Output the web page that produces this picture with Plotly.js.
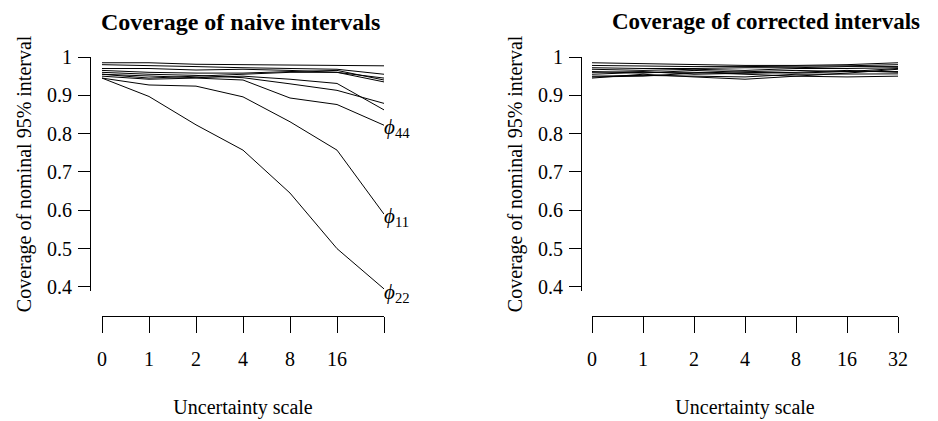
<!DOCTYPE html>
<html>
<head>
<meta charset="utf-8">
<script src="https://cdn.plot.ly/plotly-3.0.1.min.js"></script>
<style>html,body{margin:0;padding:0;background:#fff;}#chart{width:938px;height:421px;}</style>
</head>
<body>
<div id="chart"></div>
<script>
// Uncertainty scale categories
const scales = ["0", "1", "2", "4", "8", "16", "32"];
const naiveTickText = ["0", "1", "2", "4", "8", "16", ""];
const correctedTickText = ["0", "1", "2", "4", "8", "16", "32"];

// Coverage of naive intervals (one series per parameter)
const naive_phi22 = [0.945, 0.897, 0.823, 0.757, 0.645, 0.500, 0.395];
const naive_phi11 = [0.945, 0.927, 0.924, 0.896, 0.831, 0.757, 0.590];
const naive_phi44 = [0.950, 0.942, 0.945, 0.940, 0.893, 0.876, 0.822];
const naive_s4 = [0.955, 0.950, 0.946, 0.950, 0.942, 0.931, 0.862];
const naive_s5 = [0.960, 0.955, 0.952, 0.946, 0.930, 0.913, 0.879];
const naive_s6 = [0.985, 0.985, 0.981, 0.980, 0.979, 0.978, 0.977];
const naive_s7 = [0.980, 0.978, 0.975, 0.972, 0.970, 0.968, 0.955];
const naive_s8 = [0.970, 0.970, 0.966, 0.968, 0.965, 0.960, 0.945];
const naive_s9 = [0.965, 0.960, 0.958, 0.958, 0.962, 0.965, 0.940];
const naive_s10 = [0.955, 0.945, 0.950, 0.955, 0.960, 0.960, 0.935];

// Coverage of corrected intervals
const corr_s1 = [0.985, 0.983, 0.980, 0.978, 0.978, 0.980, 0.985];
const corr_s2 = [0.978, 0.976, 0.975, 0.975, 0.976, 0.977, 0.980];
const corr_s3 = [0.972, 0.970, 0.970, 0.972, 0.972, 0.975, 0.975];
const corr_s4 = [0.968, 0.965, 0.968, 0.965, 0.970, 0.970, 0.972];
const corr_s5 = [0.960, 0.962, 0.955, 0.958, 0.960, 0.965, 0.960];
const corr_s6 = [0.955, 0.960, 0.960, 0.955, 0.950, 0.958, 0.968];
const corr_s7 = [0.950, 0.952, 0.950, 0.948, 0.955, 0.955, 0.956];
const corr_s8 = [0.945, 0.955, 0.948, 0.942, 0.950, 0.948, 0.950];
const corr_s9 = [0.948, 0.950, 0.958, 0.962, 0.965, 0.962, 0.962];
const corr_s10 = [0.962, 0.958, 0.965, 0.960, 0.958, 0.962, 0.970];

const labelNames = ["<i>ϕ</i><sub>44</sub>", "<i>ϕ</i><sub>11</sub>", "<i>ϕ</i><sub>22</sub>"];

const naiveSeries = [naive_phi22, naive_phi11, naive_phi44, naive_s4, naive_s5, naive_s6, naive_s7, naive_s8, naive_s9, naive_s10];
const corrSeries = [corr_s1, corr_s2, corr_s3, corr_s4, corr_s5, corr_s6, corr_s7, corr_s8, corr_s9, corr_s10];

const W = 938, H = 421;
const fx = px => px / W;
const fy = py => 1 - py / H;

const serif = "Liberation Serif, Times New Roman, serif";
const line = {color: "#000", width: 1};

const traces = [];
naiveSeries.forEach(s => traces.push({x: scales, y: s, type: "scatter", mode: "lines", line: line, xaxis: "x", yaxis: "y", hoverinfo: "skip", cliponaxis: false}));
corrSeries.forEach(s => traces.push({x: scales, y: s, type: "scatter", mode: "lines", line: line, xaxis: "x2", yaxis: "y2", hoverinfo: "skip", cliponaxis: false}));

const tickFont = {family: serif, size: 20, color: "#000"};
const titleFont = {family: serif, size: 20, color: "#000"};

function xax(domain, pos, ticktext) {
  return {
    type: "category", domain: domain, anchor: "free", position: pos,
    range: [0, 6], tickvals: scales, ticktext: ticktext,
    showgrid: false, zeroline: false, showline: true, linecolor: "#000", linewidth: 1,
    ticks: "outside", ticklen: 16, tickwidth: 1, tickcolor: "#000",
    tickfont: tickFont, ticklabelstandoff: 9,
    title: {text: "Uncertainty scale", font: titleFont, standoff: 30},
    fixedrange: true
  };
}
function yax(domain, pos) {
  return {
    domain: domain, anchor: "free", position: pos,
    range: [0.39, 1], tickvals: [0.4, 0.5, 0.6, 0.7, 0.8, 0.9, 1], ticktext: ["0.4", "0.5", "0.6", "0.7", "0.8", "0.9", "1"],
    showgrid: false, zeroline: false, showline: true, linecolor: "#000", linewidth: 1,
    ticks: "outside", ticklen: 12, tickwidth: 1, tickcolor: "#000",
    tickfont: tickFont, ticklabelstandoff: 2,
    title: {text: "Coverage of nominal 95% interval", font: titleFont, standoff: 8},
    fixedrange: true
  };
}

// 0.1 unit ≈ 38.33 px; top (1.0) at 57 px, bottom (0.39) at ≈ 290.8 px
const yDom = [fy(290.8), fy(57)];
const lastIdx = scales.length - 1;
const phiFont = {family: serif, size: 21, color: "#000"};
const layout = {
  width: W, height: H,
  margin: {l: 0, r: 0, t: 0, b: 0},
  paper_bgcolor: "#fff", plot_bgcolor: "#fff",
  showlegend: false,
  font: {family: serif, color: "#000"},
  xaxis: xax([fx(102), fx(384)], fy(316), naiveTickText),
  yaxis: yax(yDom, fx(90)),
  xaxis2: xax([fx(592), fx(898)], fy(316), correctedTickText),
  yaxis2: yax(yDom, fx(581)),
  annotations: [
    {text: "<b>Coverage of naive intervals</b>", xref: "paper", yref: "paper", x: fx(241), y: fy(22), xanchor: "center", yanchor: "middle", showarrow: false, font: {family: serif, size: 24, color: "#000"}},
    {text: "<b>Coverage of corrected intervals</b>", xref: "paper", yref: "paper", x: fx(766), y: fy(22), xanchor: "center", yanchor: "middle", showarrow: false, font: {family: serif, size: 23, color: "#000"}},
    {text: labelNames[0], xref: "x", yref: "y", x: lastIdx, y: naive_phi44[6], xanchor: "left", yanchor: "middle", xshift: -2, yshift: -3, showarrow: false, font: phiFont},
    {text: labelNames[1], xref: "x", yref: "y", x: lastIdx, y: naive_phi11[6], xanchor: "left", yanchor: "middle", xshift: -2, yshift: -3, showarrow: false, font: phiFont},
    {text: labelNames[2], xref: "x", yref: "y", x: lastIdx, y: naive_phi22[6], xanchor: "left", yanchor: "middle", xshift: -2, yshift: -4, showarrow: false, font: phiFont}
  ]
};

Plotly.newPlot("chart", traces, layout, {staticPlot: true, displayModeBar: false});
</script>
</body>
</html>
